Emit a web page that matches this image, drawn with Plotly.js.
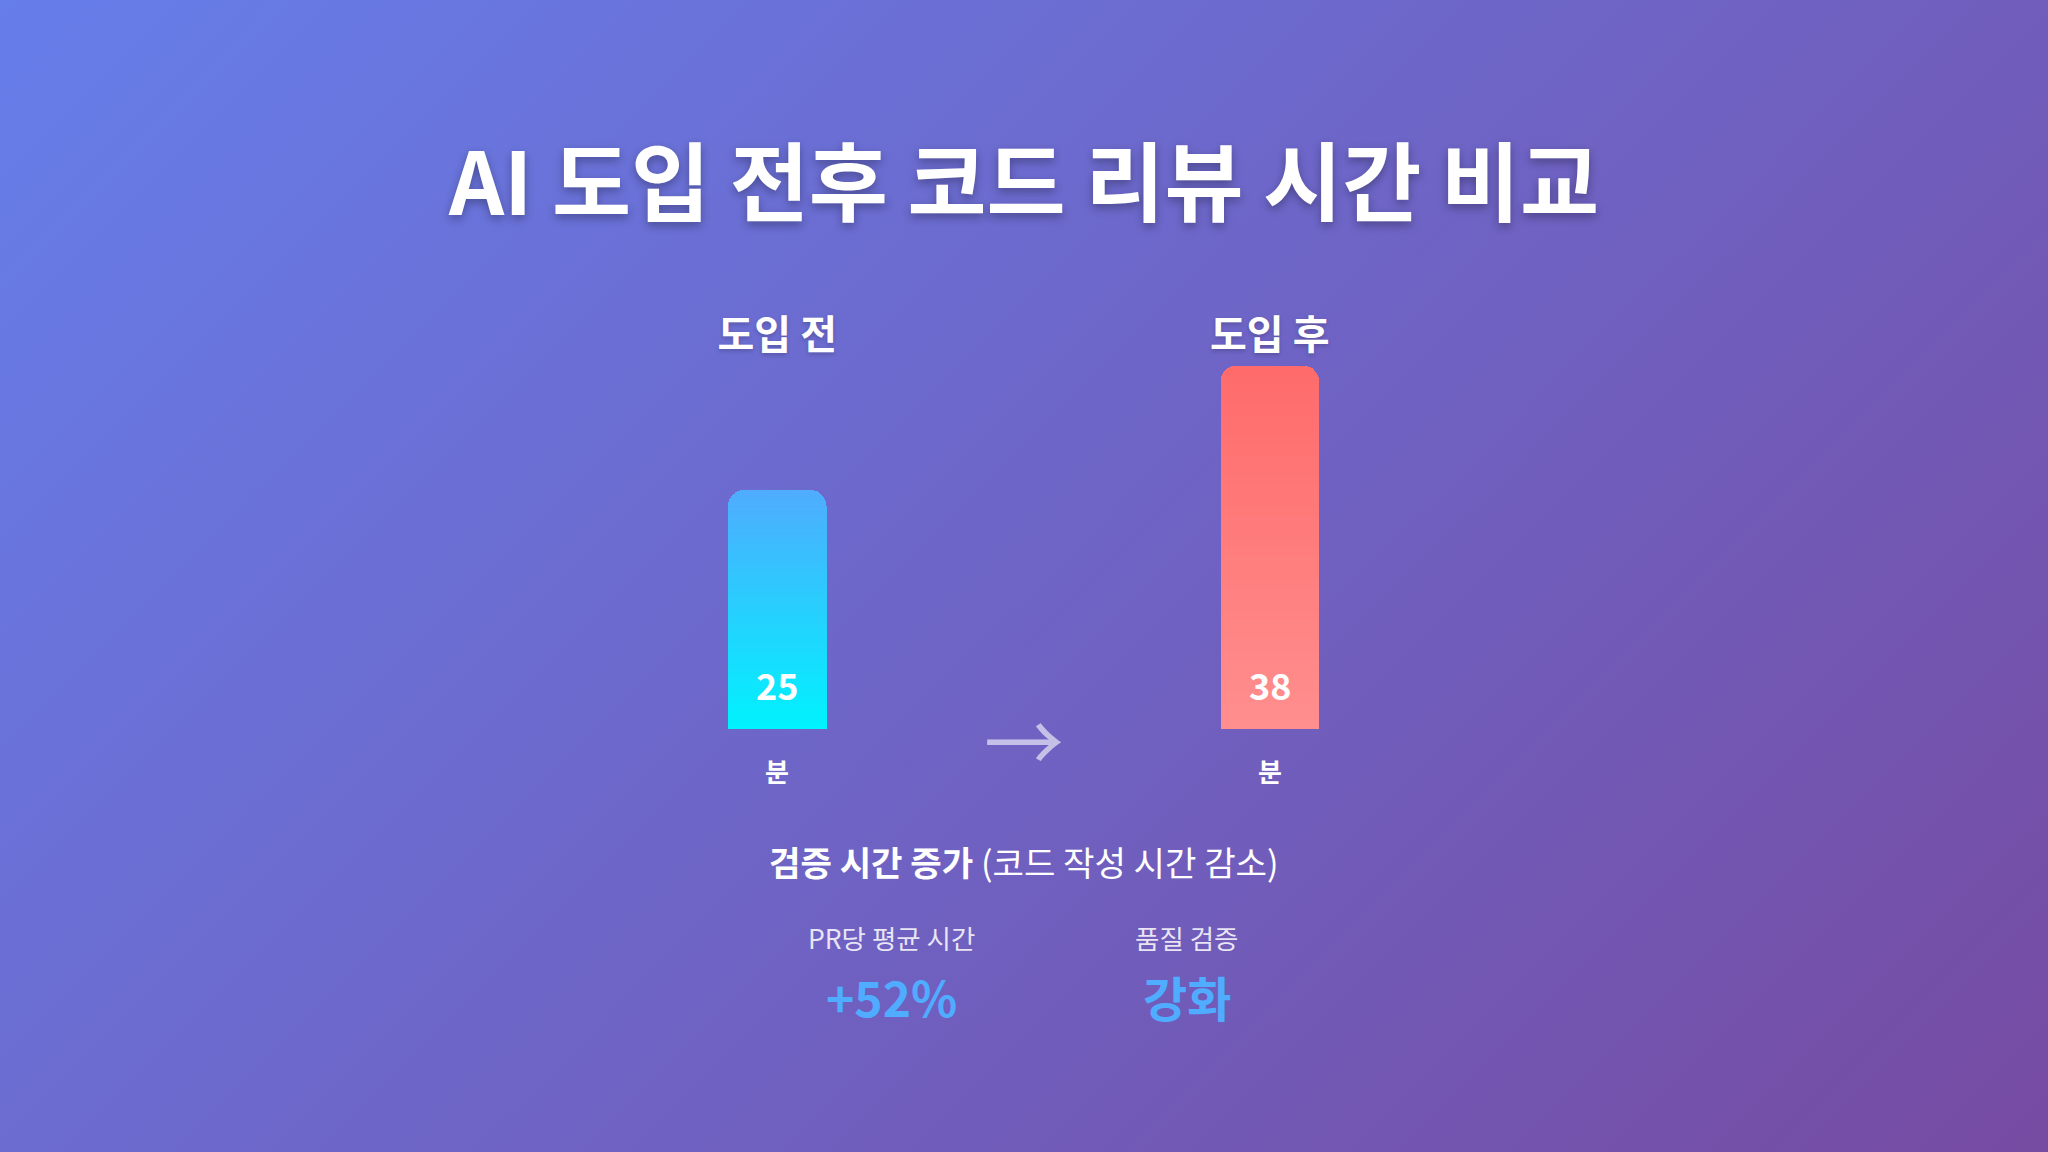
<!DOCTYPE html>
<html>
<head>
<meta charset="utf-8">
<script src="https://cdn.plot.ly/plotly-3.0.1.min.js"></script>
<style>
  html, body { margin: 0; padding: 0; }
  body {
    width: 2048px; height: 1152px; overflow: hidden;
    background: linear-gradient(135deg, #667eea 0%, #764ba2 100%);
  }
  #chart { width: 2048px; height: 1152px; }
</style>
</head>
<body>
<div id="chart"></div>
<script>
// ---- data ----
const categories = ['도입 전', '도입 후'];
const reviewMinutes = [25, 38];
const unitLabels = ['분', '분'];
const chartTitle = 'AI 도입 전후 코드 리뷰 시간 비교';
const summaryBold = '검증 시간 증가';
const summaryNote = '(코드 작성 시간 감소)';
const metricLabels = ['PR당 평균 시간', '품질 검증'];
const metricValues = ['+52%', '강화'];

// ---- styles ----
const FONT = '"Noto Sans CJK KR", "Noto Sans", sans-serif';
const barBottomColors = [[0, 242, 254], [255, 142, 142]];
const barTopColors = [[79, 172, 254], [255, 107, 107]];
const ACCENT = '#4facfe';
const SEGMENTS = 80;

function mix(a, b, t) {
  return 'rgb(' + a.map((v, i) => Math.round(v + (b[i] - v) * t)).join(',') + ')';
}

// bars drawn as stacked slices of the same value to reproduce a vertical gradient
const traces = [];
for (let k = 0; k < SEGMENTS; k++) {
  const t = k / (SEGMENTS - 1);
  traces.push({
    type: 'bar',
    x: categories,
    y: reviewMinutes.map(v => v / SEGMENTS),
    marker: {
      color: categories.map((c, i) => mix(barBottomColors[i], barTopColors[i], t)),
      line: { width: 0 }
    },
    hoverinfo: 'skip',
    showlegend: false
  });
}

const annotations = [];
categories.forEach((c, i) => {
  annotations.push({
    x: c, y: 0, xref: 'x', yref: 'y', yanchor: 'middle', yshift: 45,
    text: String(reviewMinutes[i]), showarrow: false,
    font: { family: FONT, size: 36, color: '#ffffff', weight: 700 }
  });
  annotations.push({
    x: c, y: 0, xref: 'x', yref: 'y', yanchor: 'middle', yshift: -41,
    text: unitLabels[i], showarrow: false,
    font: { family: FONT, size: 26, color: '#ffffff', weight: 700 }
  });
});
// arrow between the bars
annotations.push({
  x: 0.5, y: 0, xref: 'paper', yref: 'y', yanchor: 'middle', yshift: -8,
  text: '→', showarrow: false,
  font: { family: FONT, size: 80, color: 'rgba(255,255,255,0.6)' }
});
// summary line
annotations.push({
  x: 0.5, y: -0.3577, xref: 'paper', yref: 'paper', yanchor: 'middle',
  text: '<b>' + summaryBold + '</b> ' + summaryNote, showarrow: false,
  font: { family: FONT, size: 34.2, color: '#ffffff' }
});
// metrics
const metricX = [0.366, 0.6655];
metricLabels.forEach((lab, i) => {
  annotations.push({
    x: metricX[i], y: -0.5664, xref: 'paper', yref: 'paper', yanchor: 'middle', yshift: 1,
    text: lab, showarrow: false,
    font: { family: FONT, size: 26.5, color: 'rgba(255,255,255,0.85)' }
  });
  annotations.push({
    x: metricX[i], y: -0.7317, xref: 'paper', yref: 'paper', yanchor: 'middle', yshift: 3,
    text: metricValues[i], showarrow: false,
    font: { family: FONT, size: 48, color: ACCENT, weight: 700 }
  });
});

const layout = {
  width: 2048, height: 1152,
  paper_bgcolor: 'rgba(0,0,0,0)',
  plot_bgcolor: 'rgba(0,0,0,0)',
  margin: { l: 531, r: 532, t: 360, b: 423, pad: 0 },
  barmode: 'stack',
  bargap: 0.8,
  barcornerradius: 15,
  showlegend: false,
  hovermode: false,
  title: {
    text: chartTitle,
    x: 0.5, xref: 'container', xanchor: 'center',
    y: 1 - 185 / 1152, yref: 'container', yanchor: 'middle',
    font: { family: FONT, size: 86, color: '#ffffff', weight: 700,
            shadow: '0px 4px 10px rgba(0,0,0,0.3)' }
  },
  xaxis: {
    type: 'category',
    side: 'top',
    showgrid: false, zeroline: false, showline: false,
    ticks: '',
    ticklabelstandoff: 2,
    tickfont: { family: FONT, size: 40, color: '#ffffff', weight: 700,
                shadow: '0px 2px 4px rgba(0,0,0,0.2)' },
    fixedrange: true
  },
  yaxis: {
    range: [0, 38.61],
    showgrid: false, zeroline: false, showline: false,
    showticklabels: false, ticks: '',
    fixedrange: true
  },
  annotations: annotations
};

Plotly.newPlot('chart', traces, layout, { staticPlot: true, displayModeBar: false });
</script>
</body>
</html>
